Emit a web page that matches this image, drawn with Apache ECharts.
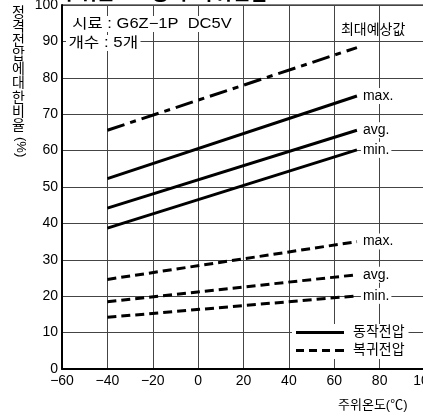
<!DOCTYPE html>
<html><head><meta charset="utf-8">
<script src="https://cdn.jsdelivr.net/npm/echarts@6/dist/echarts.min.js"></script>
<style>html,body{margin:0;padding:0;background:#fff}#c{width:423px;height:419px}</style>
</head><body><div id="c"></div>
<script>
const temps = [-40, 70];
const opMax = [52.3, 75.0];
const opAvg = [44.2, 65.6];
const opMin = [38.7, 60.2];
const relMax = [24.6, 35.0];
const relAvg = [18.5, 25.9];
const relMin = [14.2, 20.1];
const maxExpected = [65.6, 88.3];
const xTicks = [-60, -40, -20, 0, 20, 40, 60, 80, 100];
const yTicks = [0, 10, 20, 30, 40, 50, 60, 70, 80, 90, 100];

const FONT = '"Liberation Sans","Noto Sans CJK KR",sans-serif';
const pairs = arr => temps.map((t, i) => [t, arr[i]]);
const endLbl = txt => ({show: true, formatter: txt, color: '#000', fontSize: 14, fontFamily: FONT,
  backgroundColor: '#fff', padding: [1, 2], distance: 4});

function mk(name, arr, type, label) {
  return {
    name: name, type: 'line', data: pairs(arr), symbol: 'none', silent: true,
    lineStyle: {color: '#000', width: 3, type: type},
    itemStyle: {color: '#000'},
    endLabel: label ? endLbl(label) : {show: false},
    animation: false
  };
}
const dashA = [9, 5];
const series = [
  mk('동작전압', opMax, 'solid', 'max.'),
  mk('동작전압', opAvg, 'solid', 'avg.'),
  mk('동작전압', opMin, 'solid', 'min.'),
  mk('복귀전압', relMax, dashA, 'max.'),
  mk('복귀전압', relAvg, dashA, 'avg.'),
  mk('복귀전압', relMin, dashA, 'min.'),
  Object.assign(mk('최대예상값', maxExpected, [18, 6, 6, 6], null), {
    endLabel: Object.assign(endLbl('최대예상값'), {offset: [-22, -17], backgroundColor: 'transparent'})
  })
];

const chart = echarts.init(document.getElementById('c'), null, {renderer: 'canvas'});
chart.setOption({
  animation: false,
  backgroundColor: '#fff',
  grid: {left: 62, top: 5, width: 363, height: 364, show: true, borderColor: '#000', borderWidth: 1,
    outerBoundsMode: 'none', containLabel: false},
  xAxis: {
    type: 'value', min: xTicks[0], max: xTicks[xTicks.length - 1], interval: 20,
    axisLine: {show: true, onZero: false, lineStyle: {color: '#000', width: 2}},
    axisTick: {show: false},
    splitLine: {show: true, lineStyle: {color: '#444', width: 1}},
    axisLabel: {color: '#000', fontSize: 14, fontFamily: FONT, margin: 5, hideOverlap: false,
      formatter: v => v < 0 ? '\u2212' + Math.abs(v) : String(v)}
  },
  yAxis: {
    type: 'value', min: yTicks[0], max: yTicks[yTicks.length - 1], interval: 10,
    axisLine: {show: true, onZero: false, lineStyle: {color: '#000', width: 2}},
    axisTick: {show: false},
    splitLine: {show: true, lineStyle: {color: '#444', width: 1}},
    axisLabel: {color: '#000', fontSize: 14, fontFamily: FONT, margin: 4}
  },
  legend: {
    data: [
      {name: '동작전압', icon: 'path://M0,0h48v3h-48z'},
      {name: '복귀전압', icon: 'path://M0,0h8v3h-8zM13,0h8v3h-8zM26,0h8v3h-8zM39,0h9v3h-9z'}
    ],
    orient: 'vertical', left: 292, top: 324,
    itemWidth: 48, itemHeight: 3, itemGap: 3,
    backgroundColor: '#fff', padding: [1, 4],
    itemStyle: {color: '#000'},
    textStyle: {color: '#000', fontSize: 14, fontFamily: FONT, lineHeight: 15, padding: [0, 0, 0, 4]}
  },
  series: series,
  graphic: [
    {type: 'text', x: 70, y: 16, scaleX: 1.18, z: 10, style: {text: '시료 : G6Z−1P  DC5V', fill: '#000',
      font: '14px ' + FONT, backgroundColor: '#fff', padding: [1, 2]}},
    {type: 'text', x: 66, y: 35, scaleX: 1.2, z: 10, style: {text: '개수 : 5개', fill: '#000',
      font: '14px ' + FONT, backgroundColor: '#fff', padding: [1, 2]}},
    {type: 'text', left: 12, top: 6, z: 10, style: {text: '정\n격\n전\n압\n에\n대\n한\n비\n율', fill: '#000',
      font: '14px ' + FONT, lineHeight: 14.1}},
    {type: 'text', x: 27, y: 137, rotation: -Math.PI / 2, z: 10, style: {text: '(%)', fill: '#000',
      font: '13px ' + FONT}},
    {type: 'text', left: 338, top: 399, z: 10, style: {text: '주위온도(℃)', fill: '#000',
      font: '13px ' + FONT}},
    {type: 'text', left: 60, top: -16, z: 10, style: {text: '주위온도 - 동작·복귀전압', fill: '#000',
      font: 'bold 20px ' + FONT}}
  ]
});
</script></body></html>
